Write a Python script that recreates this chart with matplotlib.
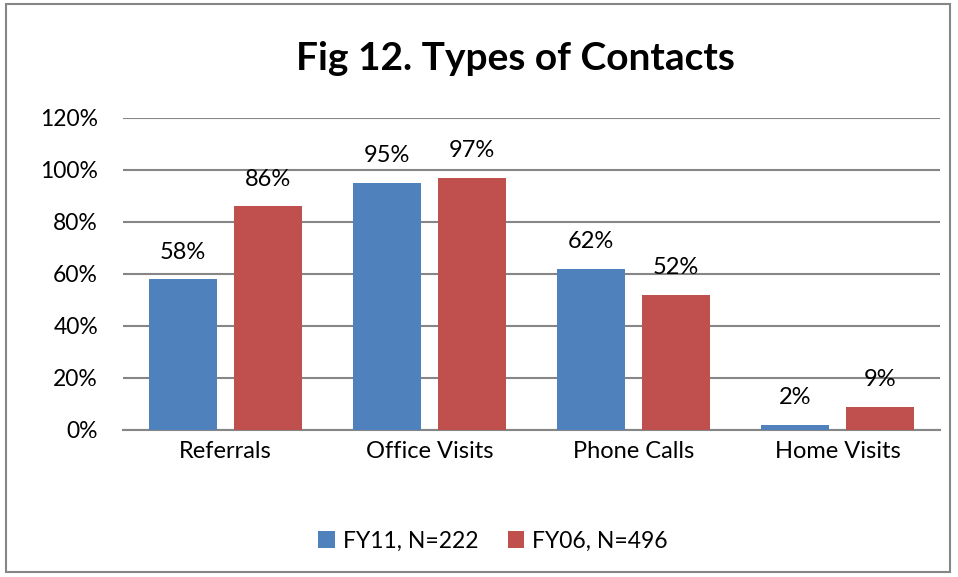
import matplotlib
matplotlib.use("Agg")
import matplotlib.pyplot as plt
from matplotlib.patches import Rectangle
import numpy as np

# data
categories = ["Referrals", "Office Visits", "Phone Calls", "Home Visits"]
fy11 = [58, 95, 62, 2]
fy06 = [86, 97, 52, 9]
series_names = ["FY11, N=222", "FY06, N=496"]
yticks = [0, 20, 40, 60, 80, 100, 120]

blue = "#4F81BD"
red = "#C0504D"
grid_col = "#868686"

plt.rcParams["font.family"] = ["Lato", "DejaVu Sans"]

fig = plt.figure(figsize=(9.58, 5.77), dpi=100)
ax = fig.add_axes([123 / 958, 1 - 430 / 577, 817 / 958, 312 / 577])

# chart border
fig.patches.append(Rectangle((6 / 958, 5 / 577), 944 / 958, 568 / 577,
                             transform=fig.transFigure, fill=False,
                             edgecolor=grid_col, linewidth=1.5))

x = np.arange(len(categories))
w = 0.333
b1 = ax.bar(x - 0.208, fy11, w, color=blue, label=series_names[0], zorder=3)
b2 = ax.bar(x + 0.208, fy06, w, color=red, label=series_names[1], zorder=3)

for bars, vals in ((b1, fy11), (b2, fy06)):
    for r, v in zip(bars, vals):
        ax.annotate(f"{v}%", (r.get_x() + r.get_width() / 2, v),
                    xytext=(0, 12), textcoords="offset points",
                    ha="center", va="bottom", fontsize=17, color="black")

ax.set_xlim(-0.5, 3.5)
ax.set_ylim(0, 120)
ax.set_yticks(yticks)
ax.set_yticklabels([f"{t}%" for t in yticks], fontsize=16.5)
ax.set_xticks(x)
ax.set_xticklabels(categories, fontsize=17)
ax.tick_params(axis="both", length=0)
ax.tick_params(axis="y", pad=18)
ax.tick_params(axis="x", pad=8)
ax.yaxis.grid(True, color=grid_col, linewidth=1.5, zorder=0)
ax.set_axisbelow(True)
for s in ["left", "right", "top"]:
    ax.spines[s].set_visible(False)
ax.spines["bottom"].set_color(grid_col)
ax.spines["bottom"].set_linewidth(1.5)

fig.text(515 / 958, 1 - 58 / 577, "Fig 12. Types of Contacts", ha="center",
         va="center", fontsize=28, fontweight="bold")

fig.legend(handles=[b1, b2], loc="center", bbox_to_anchor=(493 / 958, 1 - 541 / 577),
           ncol=2, frameon=False, fontsize=16.5, handlelength=0.7,
           handleheight=0.7, handletextpad=0.35, columnspacing=1.3)

fig.savefig("out.png", dpi=100)
